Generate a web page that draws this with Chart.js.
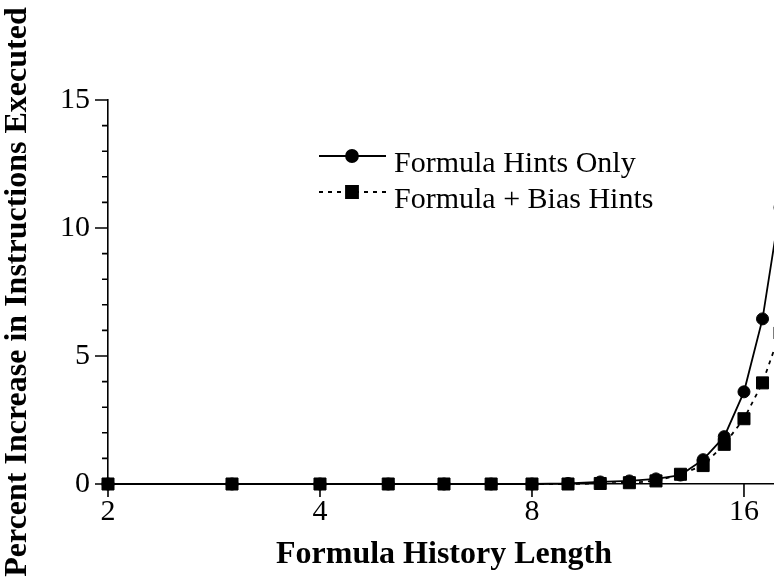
<!DOCTYPE html>
<html>
<head>
<meta charset="utf-8">
<script src="https://cdn.jsdelivr.net/npm/chart.js@4.4.1/dist/chart.umd.min.js"></script>
<style>
  html, body { margin: 0; padding: 0; background: #fff; overflow: hidden; }
  #wrap { width: 774px; height: 577px; overflow: hidden; }
</style>
</head>
<body>
<div id="wrap"><canvas id="hintChart" width="790" height="577"></canvas></div>
<script>
// 데이터 (x: 히스토리 길이, y: 명령어 증가율 %)
const historyLengths = [2, 3, 4, 5, 6, 7, 8, 9, 10, 11, 12, 13, 14, 15, 16, 17, 18];
const formulaOnly = [0, 0, 0, 0, 0, 0, 0, 0.02, 0.08, 0.12, 0.2, 0.35, 0.95, 1.85, 3.6, 6.45, 10.8];
const formulaBias = [0, 0, 0, 0, 0, 0, 0, 0, 0.02, 0.05, 0.12, 0.38, 0.72, 1.55, 2.55, 3.95, 5.9];
const xTickValues = [2, 4, 8, 16];
const seriesNames = ['Formula Hints Only', 'Formula + Bias Hints'];

const serif = 'Liberation Serif, Times New Roman, serif';

// 축 눈금 (주 눈금은 길게, 보조 눈금은 짧게)
const axisTicks = {
    id: 'axisTicks',
    afterDraw(chart) {
        const ctx = chart.ctx;
        const xs = chart.scales.x;
        const ys = chart.scales.y;
        ctx.save();
        ctx.strokeStyle = '#000';
        ctx.lineWidth = 1.6;
        ctx.beginPath();
        ys.ticks.forEach(t => {
            const py = ys.getPixelForValue(t.value);
            const len = t.value % 5 === 0 ? 13 : 6;
            ctx.moveTo(ys.right, py);
            ctx.lineTo(ys.right - len, py);
        });
        xs.ticks.forEach(t => {
            const px = xs.getPixelForValue(t.value);
            ctx.moveTo(px, xs.top);
            ctx.lineTo(px, xs.top + 13);
        });
        ctx.stroke();
        ctx.restore();
    }
};

// 범례 (선 + 마커 + 글자)
const hintLegend = {
    id: 'hintLegend',
    afterDraw(chart) {
        const ctx = chart.ctx;
        const rows = [
            { y: 156, text: 172 },
            { y: 192, text: 208 },
        ];
        ctx.save();
        chart.data.datasets.forEach((ds, i) => {
            const r = rows[i];
            ctx.strokeStyle = '#000';
            ctx.fillStyle = '#000';
            ctx.lineWidth = ds.borderWidth;
            ctx.setLineDash(ds.borderDash || []);
            ctx.beginPath();
            ctx.moveTo(319, r.y);
            ctx.lineTo(386, r.y);
            ctx.stroke();
            ctx.setLineDash([]);
            Chart.helpers.drawPoint(ctx, {
                pointStyle: ds.pointStyle,
                radius: ds.pointRadius,
                borderWidth: 1,
                rotation: 0,
            }, 352, r.y);
            ctx.fill();
            ctx.font = '30px ' + serif;
            ctx.textAlign = 'left';
            ctx.textBaseline = 'alphabetic';
            ctx.fillText(ds.label, 394, r.text);
        });
        ctx.restore();
    }
};

const hintCtx = document.getElementById('hintChart').getContext('2d');

const hintChart = new Chart(hintCtx, {
    type: 'line',
    data: {
        datasets: [
            {
                label: seriesNames[0],
                data: historyLengths.map((x, i) => ({ x: x, y: formulaOnly[i] })),
                borderColor: '#000',
                backgroundColor: '#000',
                borderWidth: 1.8,
                pointStyle: 'circle',
                pointRadius: 6,
                pointHoverRadius: 6,
                pointBackgroundColor: '#000',
                pointBorderColor: '#000',
                pointBorderWidth: 1,
                tension: 0,
                clip: false,
                order: 1,
            },
            {
                label: seriesNames[1],
                data: historyLengths.map((x, i) => ({ x: x, y: formulaBias[i] })),
                borderColor: '#000',
                backgroundColor: '#000',
                borderWidth: 1.8,
                borderDash: [4, 5],
                pointStyle: 'rect',
                pointRadius: 8.5,
                pointHoverRadius: 8.5,
                pointBackgroundColor: '#000',
                pointBorderColor: '#000',
                pointBorderWidth: 1,
                tension: 0,
                clip: false,
                order: 0,
            },
        ],
    },
    options: {
        responsive: false,
        animation: false,
        devicePixelRatio: 1,
        layout: { padding: { top: 100, right: 10, left: 0, bottom: 0 } },
        plugins: {
            legend: { display: false },
            tooltip: { enabled: false },
        },
        scales: {
            x: {
                type: 'logarithmic',
                min: 2,
                max: 18,
                afterBuildTicks: s => { s.ticks = xTickValues.map(v => ({ value: v })); },
                afterFit: s => { s.height = 93; },
                grid: { display: false, drawTicks: false },
                border: { color: '#000', width: 1.6 },
                ticks: {
                    autoSkip: false,
                    maxRotation: 0,
                    padding: 10,
                    color: '#000',
                    font: { family: serif, size: 30 },
                    callback: v => String(v),
                },
                title: {
                    display: true,
                    text: 'Formula History Length',
                    color: '#000',
                    font: { family: serif, size: 32, weight: 'bold', lineHeight: 1.1 },
                    padding: { top: 0, bottom: 5 },
                },
            },
            y: {
                min: 0,
                max: 15,
                afterFit: s => { s.width = 108; },
                grid: { display: false, drawTicks: false },
                border: { color: '#000', width: 1.6 },
                ticks: {
                    stepSize: 1,
                    autoSkip: false,
                    padding: 18,
                    color: '#000',
                    font: { family: serif, size: 30 },
                    callback: v => (v % 5 === 0 ? String(v) : ''),
                },
                title: {
                    display: true,
                    text: 'Percent Increase in Instructions Executed',
                    color: '#000',
                    font: { family: serif, size: 32, weight: 'bold', lineHeight: 1.1 },
                    padding: { top: 0, bottom: 0 },
                },
            },
        },
    },
    plugins: [axisTicks, hintLegend],
});
</script>
</body>
</html>
